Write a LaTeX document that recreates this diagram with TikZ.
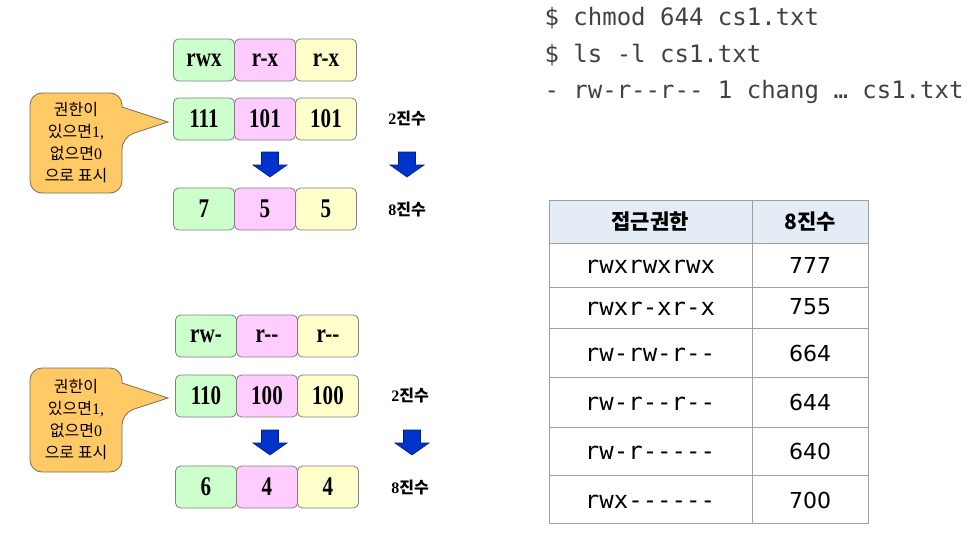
\documentclass[tikz,border=0pt]{standalone}
\usepackage{fontspec}
\setmainfont{Liberation Serif}
\newfontfamily\kor{Noto Sans CJK KR}
\newfontfamily\mono{DejaVu Sans Mono}
\newfontfamily\numf{DejaVu Sans}
\usetikzlibrary{positioning}

\definecolor{cgreen}{RGB}{204,255,204}
\definecolor{cpink}{RGB}{255,204,255}
\definecolor{cyellow}{RGB}{255,255,204}
\definecolor{boxline}{RGB}{128,128,128}
\definecolor{notefill}{RGB}{255,201,102}
\definecolor{noteline}{RGB}{120,110,90}
\definecolor{arrfill}{RGB}{0,51,204}
\definecolor{arrline}{RGB}{0,30,120}
\definecolor{cmdgray}{RGB}{64,64,72}
\definecolor{tabline}{RGB}{160,160,160}
\definecolor{tabhead}{RGB}{228,236,246}

\newcommand{\nar}[1]{\scalebox{0.78}[1]{#1}}

\tikzset{
  cell/.style={draw=boxline, line width=0.8pt, rounded corners=5pt,
    minimum width=61pt, minimum height=42pt, inner sep=0pt,
    font=\fontsize{27}{27}\selectfont\bfseries},
  base/.style={font=\fontsize{16}{16}\selectfont\bfseries},
  note/.style={align=center, font=\kor\fontsize{16}{22}\selectfont},
  callbox/.style={draw=noteline, fill=notefill, line width=0.8pt},
  blockarr/.style={draw=arrline, fill=arrfill, line width=0.6pt},
  cmd/.style={anchor=west, text=cmdgray, font=\mono\fontsize{24}{24}\selectfont},
  perm/.style={font=\mono\fontsize{24}{24}\selectfont},
  octal/.style={font=\numf\fontsize{22}{22}\selectfont},
  head/.style={font=\kor\fontsize{21}{21}\selectfont\bfseries}
}

\begin{document}
\begin{tikzpicture}[x=1pt, y=-1pt]
\useasboundingbox (0,0) rectangle (971,541);

% upper group: rwxr-xr-x
\node[cell, fill=cgreen]  (a-u) at (204,60) {\nar{rwx}};
\node[cell, fill=cpink]   (a-g) at (265,60) {\nar{r-x}};
\node[cell, fill=cyellow] (a-o) at (326,60) {\nar{r-x}};
\node[cell, fill=cgreen]  (a-ub) at (204,119) {\nar{111}};
\node[cell, fill=cpink]   (a-gb) at (265,119) {\nar{101}};
\node[cell, fill=cyellow] (a-ob) at (326,119) {\nar{101}};
\node[cell, fill=cgreen]  (a-uo) at (204,209) {\nar{7}};
\node[cell, fill=cpink]   (a-go) at (265,209) {\nar{5}};
\node[cell, fill=cyellow] (a-oo) at (326,209) {\nar{5}};
\node[base] (a-bin) at (407,119) {2{\kor\bfseries 진수}};
\node[base] (a-oct) at (407,210) {8{\kor\bfseries 진수}};

\draw[callbox] (122,107) [rounded corners=12pt] -- (122,93) -- (30,93) -- (30,193)
  -- (122,193) -- (122,137) [sharp corners] -- (168,122) -- cycle;
\node[note] (a-note) at (76,143) {권한이\\있으면\textrm{1,}\\없으면\textrm{0}\\으로 표시};

% lower group: rw-r--r--
\node[cell, fill=cgreen]  (b-u) at (206,336) {\nar{rw-}};
\node[cell, fill=cpink]   (b-g) at (267,336) {\nar{r-{}-}};
\node[cell, fill=cyellow] (b-o) at (328,336) {\nar{r-{}-}};
\node[cell, fill=cgreen]  (b-ub) at (206,396) {\nar{110}};
\node[cell, fill=cpink]   (b-gb) at (267,396) {\nar{100}};
\node[cell, fill=cyellow] (b-ob) at (328,396) {\nar{100}};
\node[cell, fill=cgreen]  (b-uo) at (206,487) {\nar{6}};
\node[cell, fill=cpink]   (b-go) at (267,487) {\nar{4}};
\node[cell, fill=cyellow] (b-oo) at (328,487) {\nar{4}};
\node[base] (b-bin) at (410,396) {2{\kor\bfseries 진수}};
\node[base] (b-oct) at (410,488) {8{\kor\bfseries 진수}};

\draw[callbox] (122,383) [rounded corners=12pt] -- (122,368) -- (30,368) -- (30,472)
  -- (122,472) -- (122,413) [sharp corners] -- (168,398) -- cycle;
\node[note] (b-note) at (76,420) {권한이\\있으면\textrm{1,}\\없으면\textrm{0}\\으로 표시};

% blue arrows
\foreach \ax/\ay in {270/152, 407/152, 270/430, 412/430}
  \draw[blockarr] (\ax-8.5,\ay) -- (\ax+8.5,\ay) -- (\ax+8.5,\ay+13) -- (\ax+17,\ay+13)
    -- (\ax,\ay+25) -- (\ax-17,\ay+13) -- (\ax-8.5,\ay+13) -- cycle;

% commands
\node[cmd] (c1) at (541,18) {\$ chmod 644 cs1.txt};
\node[cmd] (c2) at (541,55) {\$ ls -l cs1.txt};
\node[cmd] (c3) at (541,92) {- rw-r--r-- 1 chang … cs1.txt};

% table
\fill[tabhead] (549,200) rectangle (868,243);
\draw[tabline, line width=0.8pt] (549,200) rectangle (868,523);
\draw[tabline, line width=0.8pt] (752,200) -- (752,523);
\foreach \ry in {243,287,328,377,427,475}
  \draw[tabline, line width=0.8pt] (549,\ry) -- (868,\ry);
\node[head] (h1) at (650,222) {접근권한};
\node[head] (h2) at (810,222) {8진수};
\foreach \p/\n/\ty [count=\i] in {rwxrwxrwx/777/267, rwxr-xr-x/755/309, rw-rw-r--/664/355,
    rw-r--r--/644/404, rw-r-----/640/453, rwx------/700/502} {
  \node[perm]  (p\i) at (650,\ty) {\p};
  \node[octal] (n\i) at (810,\ty-2) {\n};
}
\end{tikzpicture}
\end{document}
